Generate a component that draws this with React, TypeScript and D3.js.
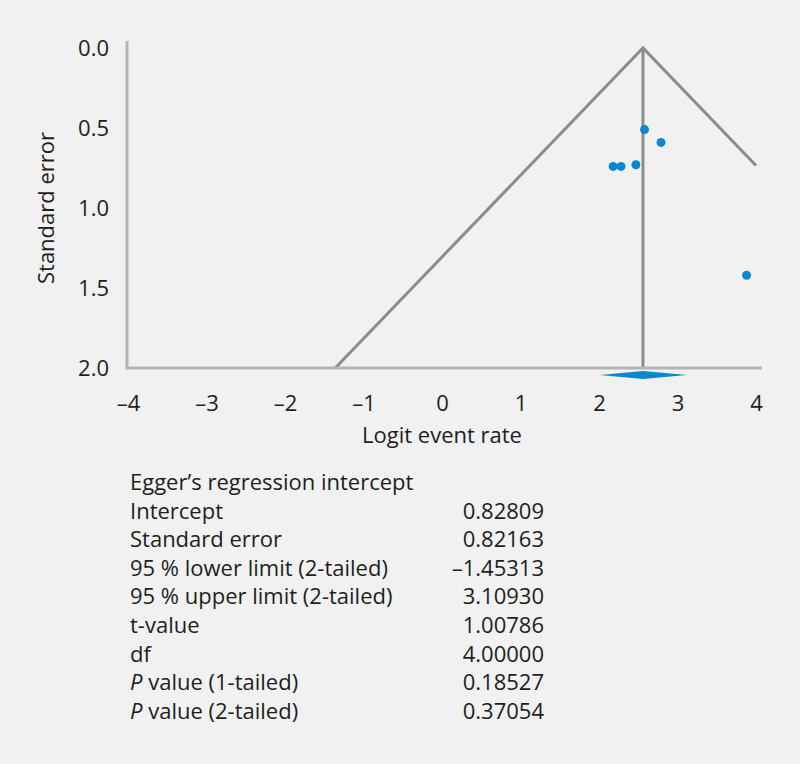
import React, { useEffect, useRef } from 'react';
import * as d3 from 'd3';

document.body.style.margin = '0';

// study estimates (logit event rate) and their standard errors
const studyLogit = [2.58, 2.79, 2.18, 2.28, 2.47, 3.88];
const studySE = [0.51, 0.59, 0.74, 0.74, 0.73, 1.42];

// pooled estimate and its 95% CI (diamond)
const pooled = 2.56;
const pooledLower = 2.01;
const pooledUpper = 3.12;

const xTicks = [-4, -3, -2, -1, 0, 1, 2, 3, 4];
const yTicks = [0, 0.5, 1, 1.5, 2];

const statLabels = [
  'Intercept',
  'Standard error',
  '95 % lower limit (2-tailed)',
  '95 % upper limit (2-tailed)',
  't-value',
  'df',
  'P value (1-tailed)',
  'P value (2-tailed)',
];
const statValues = [
  '0.82809',
  '0.82163',
  '–1.45313',
  '3.10930',
  '1.00786',
  '4.00000',
  '0.18527',
  '0.37054',
];

const FONT = '"Open Sans", "Noto Sans", sans-serif';
const FS = 22;

export default function App() {
  const ref = useRef<SVGSVGElement>(null);

  useEffect(() => {
    const svg = d3.select(ref.current);
    svg.selectAll('*').remove();

    const x = d3.scaleLinear().domain([-4, 4]).range([128, 756]);
    const y = d3.scaleLinear().domain([0, 2]).range([48, 368]);

    svg.append('rect').attr('width', 800).attr('height', 764).attr('fill', '#f0f1f0');

    const g = svg.append('g');

    // funnel
    const rightSE = (4 - pooled) / 1.96;
    const funnel = d3
      .line<[number, number]>()
      .x(d => x(d[0]))
      .y(d => y(d[1]));
    g.append('path')
      .attr('d', funnel([
        [pooled - 1.96 * 2, 2],
        [pooled, 0],
        [4, rightSE],
      ]))
      .attr('fill', 'none')
      .attr('stroke', '#8c8c8c')
      .attr('stroke-width', 3)
      .attr('stroke-linejoin', 'miter');
    g.append('line')
      .attr('x1', x(pooled))
      .attr('x2', x(pooled))
      .attr('y1', y(0))
      .attr('y2', y(2))
      .attr('stroke', '#8c8c8c')
      .attr('stroke-width', 3);

    // axes lines
    g.append('line')
      .attr('x1', x(-4) - 1)
      .attr('x2', x(-4) - 1)
      .attr('y1', y(0) - 7)
      .attr('y2', y(2))
      .attr('stroke', '#b4b4b4')
      .attr('stroke-width', 3);
    g.append('line')
      .attr('x1', x(-4) - 2.5)
      .attr('x2', x(4) + 6)
      .attr('y1', y(2))
      .attr('y2', y(2))
      .attr('stroke', '#b4b4b4')
      .attr('stroke-width', 3);

    // diamond
    const dy = y(2) + 7;
    g.append('path')
      .attr(
        'd',
        `M${x(pooledLower)},${dy}L${x(pooled)},${dy - 4}L${x(pooledUpper)},${dy}L${x(pooled)},${dy + 4}Z`
      )
      .attr('fill', '#0a88cf');

    // points
    g.selectAll('circle.pt')
      .data(studyLogit.map((v, i) => [v, studySE[i]]))
      .join('circle')
      .attr('class', 'pt')
      .attr('cx', d => x(d[0]))
      .attr('cy', d => y(d[1]))
      .attr('r', 4.5)
      .attr('fill', '#0a88cf');

    // tick labels
    const xAxis = d3
      .axisBottom(x)
      .tickValues(xTicks)
      .tickSize(0)
      .tickPadding(0)
      .tickFormat(d => ((d as number) < 0 ? '–' + Math.abs(d as number) : String(d)));
    const xa = g.append('g').attr('transform', `translate(0, 395)`).call(xAxis);
    xa.select('.domain').remove();
    xa.selectAll('text')
      .attr('y', 0)
      .attr('dy', '0.72em')
      .attr('font-family', FONT)
      .attr('font-size', FS)
      .attr('fill', '#1e1e1e');

    const yAxis = d3
      .axisLeft(y)
      .tickValues(yTicks)
      .tickSize(0)
      .tickPadding(19)
      .tickFormat(d3.format('.1f') as any);
    const ya = g.append('g').attr('transform', `translate(${x(-4)}, 0)`).call(yAxis);
    ya.select('.domain').remove();
    ya.selectAll('text')
      .attr('dy', '0.35em')
      .attr('font-family', FONT)
      .attr('font-size', FS)
      .attr('fill', '#1e1e1e');

    // axis titles
    g.append('text')
      .attr('x', x(0))
      .attr('y', 443)
      .attr('text-anchor', 'middle')
      .attr('font-family', FONT)
      .attr('font-size', FS)
      .attr('fill', '#1e1e1e')
      .text('Logit event rate');
    g.append('text')
      .attr('transform', `translate(54, ${(y(0) + y(2)) / 2}) rotate(-90)`)
      .attr('text-anchor', 'middle')
      .attr('font-family', FONT)
      .attr('font-size', FS)
      .attr('fill', '#1e1e1e')
      .text('Standard error');

    // statistics table
    const t = svg.append('g').attr('font-family', FONT).attr('font-size', FS).attr('fill', '#1e1e1e');
    const rowY = (i: number) => 490 + i * 28.6;
    t.append('text').attr('x', 130).attr('y', rowY(0)).text('Egger’s regression intercept');
    statLabels.forEach((lab, i) => {
      const txt = t.append('text').attr('x', 130).attr('y', rowY(i + 1));
      if (lab.startsWith('P ')) {
        txt.append('tspan').attr('font-style', 'italic').text('P');
        txt.append('tspan').text(lab.slice(1));
      } else {
        txt.text(lab);
      }
    });
    statValues.forEach((v, i) => {
      t.append('text')
        .attr('x', 544)
        .attr('y', rowY(i + 1))
        .attr('text-anchor', 'end')
        .text(v);
    });
  }, []);

  return <svg ref={ref} width={800} height={764} style={{ display: 'block' }} />;
}
